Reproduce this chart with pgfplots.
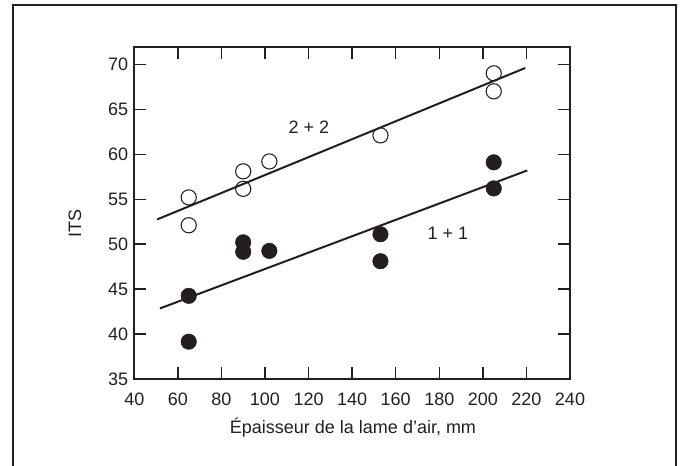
\documentclass[border=0pt]{standalone}
\usepackage{fontspec}
\setmainfont{Liberation Sans}
\usepackage{pgfplots}
\pgfplotsset{compat=1.18}
\definecolor{ink}{HTML}{231F20}
\begin{document}
\begin{tikzpicture}
\begin{scope}[x=0.75pt,y=0.75pt]
\useasboundingbox (0,0) rectangle (682,466);
\draw[ink, line width=1.5pt] (13,-5) -- (13,461) -- (676,461) -- (676,-5);
\end{scope}
\begin{axis}[
  at={(100.7pt,65.25pt)}, anchor=south west,
  scale only axis, width=326.8pt, height=248.8pt,
  xmin=40, xmax=240, ymin=35, ymax=71.9,
  xtick={40,60,...,240}, ytick={35,40,...,70},
  tick align=inside, major tick length=9pt,
  axis line style={line width=1.5pt, ink},
  every tick/.style={line width=1pt, ink},
  tick label style={font=\fontsize{13.5}{16}\selectfont, text=ink},
  xticklabel style={yshift=-7pt},
  yticklabel style={xshift=-1pt},
  /pgf/number format/assume math mode=true,
  clip=false,
]
\addplot[only marks, mark=o, mark size=5.7pt, mark options={line width=0.8pt, ink}] coordinates {
(65,55.2) (65,52.1) (90,58.1) (90,56.15) (102,59.2) (153,62.1) (205,69.0) (205,67.0)};
\addplot[only marks, mark=*, mark size=5.8pt, mark options={ink, fill=ink}] coordinates {
(65,44.25) (65,39.15) (90,50.2) (90,49.15) (102,49.25) (153,51.1) (153,48.1) (205,59.1) (205,56.2)};
\addplot[ink, line width=1.5pt] coordinates {(50.5,52.75) (219.5,69.6)};
\addplot[ink, line width=1.5pt] coordinates {(51.8,42.85) (220.4,58.2)};
\node[font=\fontsize{13.5}{16}\selectfont, text=ink] at (axis cs:120.2,63.0) {2 + 2};
\node[font=\fontsize{13.5}{16}\selectfont, text=ink] at (axis cs:184,51.2) {1 + 1};
\end{axis}
\begin{scope}[x=0.75pt,y=0.75pt]
\node[font=\fontsize{13.5}{16}\selectfont, text=ink] at (353,38) {Épaisseur de la lame d’air, mm};
\node[font=\fontsize{13.5}{16}\selectfont, text=ink, rotate=90] at (75,242) {ITS};
\end{scope}
\end{tikzpicture}
\end{document}
